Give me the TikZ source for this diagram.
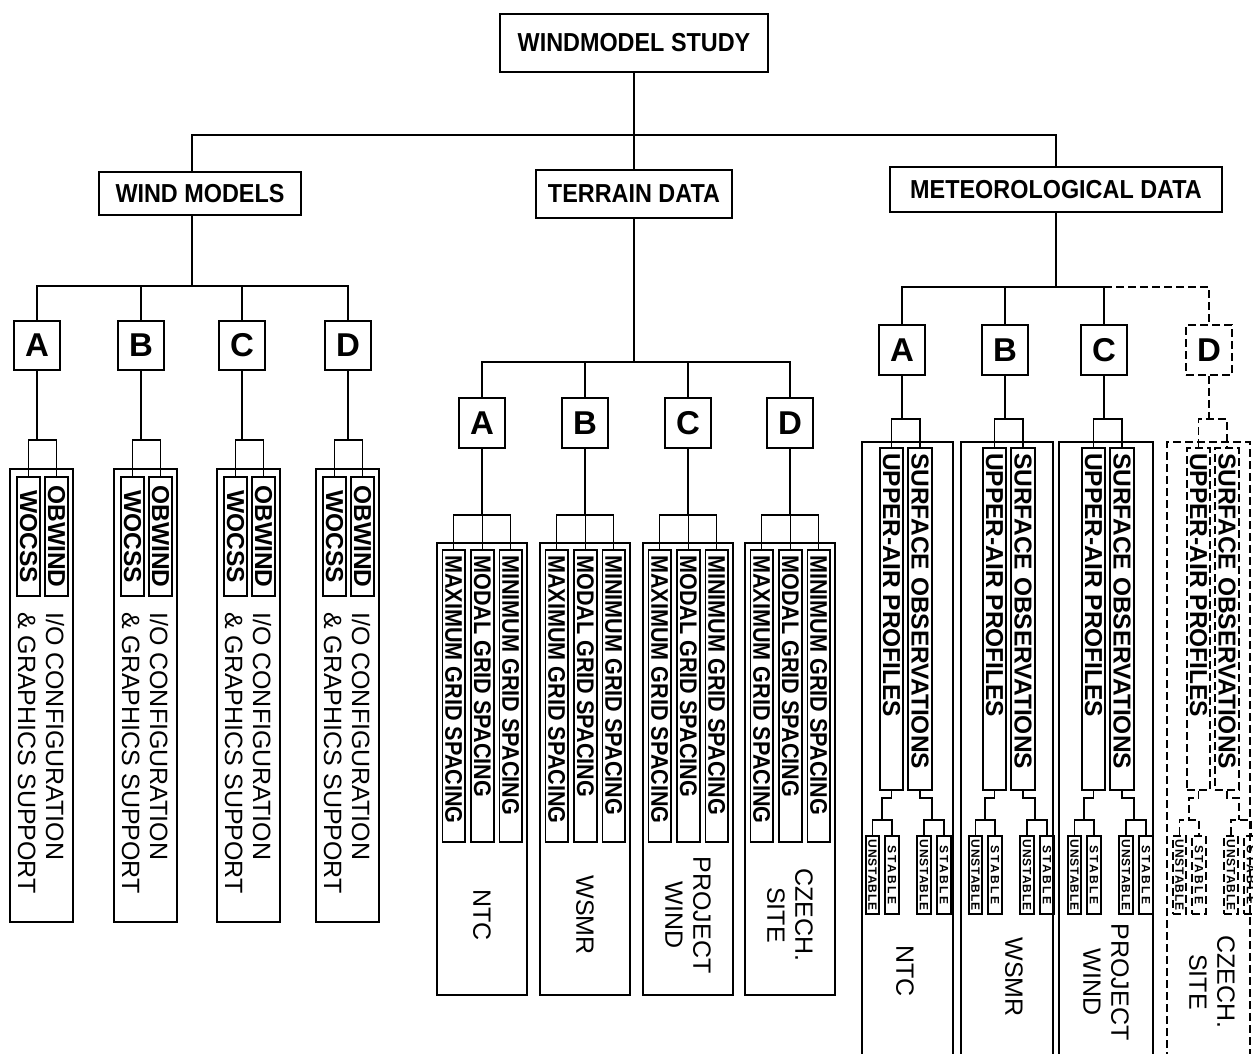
\documentclass[tikz,border=0pt]{standalone}
\usepackage{fontspec}
\setmainfont{Liberation Sans}
\newfontfamily\condfam{Liberation Sans}[FakeStretch=0.9]
\newfontfamily\spfam{Liberation Sans}[LetterSpace=8]
\newfontfamily\spfamw{Liberation Sans}[LetterSpace=20]
\usetikzlibrary{fit}
\begin{document}
\begin{tikzpicture}[x=1pt,y=-1pt,
  bx/.style={draw, line width=1.6pt, inner sep=0pt, rectangle},
  ln/.style={line width=1.4pt},
  fd/.style={dash pattern=on 8pt off 4pt},
  hdr/.style={font=\condfam\bfseries\fontsize{26}{30}\selectfont, inner sep=0pt},
  lett/.style={font=\bfseries\fontsize{33}{36}\selectfont, inner sep=0pt},
  vt/.style={rotate=-90, inner sep=0pt},
  big/.style={vt, font=\fontsize{25}{28}\selectfont},
  cb/.style={vt, font=\condfam\bfseries\fontsize{24}{26}\selectfont},
  mb/.style={vt, font=\bfseries\fontsize{24.5}{28}\selectfont},
  smu/.style={vt, font=\spfam\bfseries\fontsize{12}{14}\selectfont},
  sms/.style={vt, font=\spfamw\bfseries\fontsize{12}{14}\selectfont}]
\fill[white] (0,0) rectangle (1253,1054);
\useasboundingbox (0,0) rectangle (1253,1054);
\clip (0,0) rectangle (1253,1054);

% ---------- top levels ----------
\node[bx, fit={(500,14)(768,72)}] (root) {};
\node[hdr] (rootT) at (root.center) {WINDMODEL STUDY};
\node[bx, fit={(99,172)(301,215)}] (wm) {};
\node[hdr] (wmT) at (wm.center) {WIND MODELS};
\node[bx, fit={(536,170)(732,218)}] (td) {};
\node[hdr] (tdT) at (td.center) {TERRAIN DATA};
\node[bx, fit={(890,167)(1222,212)}] (met) {};
\node[hdr] (metT) at (met.center) {METEOROLOGICAL DATA};

\draw[ln] (root.south) -- (td.north);
\draw[ln] (wm.north -| 192,0) |- (met.north |- 0,135) -- (met.north);

% ---------- wind models ----------
\draw[ln] (wm.south -| 192,0) -- (192,286);
\foreach \n/\lx/\c in {A/37/41,B/141/145,C/242/248,D/348/347}{
  \node[bx, fit={(\lx-23,321)(\lx+23,370)}] (wl\n) {};
  \node[lett] (wlt\n) at (wl\n.center) {\n};
  \node[bx, fit={(\c-31,469)(\c+32,922)}] (wo\n) {};
  \node[bx, fit={(\c-24,477)(\c-1,596)}] (ww\n) {};
  \node[bx, fit={(\c+4,477)(\c+27,596)}] (wb\n) {};
  \node[mb] (wwt\n) at (ww\n.center) {WOCSS};
  \node[mb] (wbt\n) at (wb\n.center) {OBWIND};
  \node[big, anchor=west, align=left] (wot\n) at (\c,612) {I/O CONFIGURATION\\\& GRAPHICS SUPPORT};
  \draw[ln] (wl\n.south) -- (wl\n.south |- 0,440);
  \draw[ln] (ww\n.north) |- (wb\n.north |- 0,440) -- (wb\n.north);
}
\draw[ln] (wlA.north) |- (wlD.north |- 0,286) -- (wlD.north);
\draw[ln] (wlB.north) -- (wlB.north |- 0,286);
\draw[ln] (wlC.north) -- (wlC.north |- 0,286);

% ---------- terrain data ----------
\draw[ln] (td.south) -- (td.south |- 0,362);
\foreach \n/\o/\lab in {A/437/NTC,B/540/WSMR,C/643/{PROJECT\\WIND},D/745/{CZECH.\\SITE}}{
  \node[bx, fit={(\o+22,398)(\o+68,448)}] (tl\n) {};
  \node[lett] (tlt\n) at (tl\n.center) {\n};
  \node[bx, fit={(\o,543)(\o+90,995)}] (to\n) {};
  \node[bx, fit={(\o+5.5,550)(\o+28,842)}] (tx\n) {};
  \node[bx, fit={(\o+34,550)(\o+57,842)}] (tm\n) {};
  \node[bx, fit={(\o+62.5,550)(\o+85,842)}] (tn\n) {};
  \node[cb, anchor=west] (txt\n) at (\o+16.75,555) {MAXIMUM GRID SPACING};
  \node[cb, anchor=west] (tmt\n) at (\o+45.5,555) {MODAL GRID SPACING};
  \node[cb, anchor=west] (tnt\n) at (\o+73.75,555) {MINIMUM GRID SPACING};
  \node[big, align=center] (tot\n) at (\o+45,915) {\lab};
  \draw[ln] (tl\n.south) -- (tl\n.south |- 0,515);
  \draw[ln] (tx\n.north) |- (tn\n.north |- 0,515) -- (tn\n.north);
  \draw[ln] (tm\n.north) -- (tm\n.north |- 0,515);
}
\draw[ln] (tlA.north) |- (tlD.north |- 0,362) -- (tlD.north);
\draw[ln] (tlB.north) -- (tlB.north |- 0,362);
\draw[ln] (tlC.north) -- (tlC.north |- 0,362);

% ---------- meteorological data ----------
\draw[ln] (met.south) -- (met.south |- 0,287);
\foreach \n/\x/\l/\r/\st/\tx/\ty/\lab in {
   A/880/862/953/solid/905/971/NTC,
   B/983/961/1053/solid/1014/977/WSMR,
   C/1082/1059/1153/solid/1106/982/{PROJECT\\WIND},
   D/1187/1167/1250/fd/1212/982/{CZECH.\\SITE}}{
  \node[bx,\st, fit={(\x-1,325)(\x+45,375)}] (ml\n) {};
  \node[lett] (mlt\n) at (ml\n.center) {\n};
  \draw[ln,\st] (\l,1060) -- (\l,442) -- (\r,442) -- (\r,1060);
  \node[bx,\st, fit={(\x,448)(\x+23,790)}] (mu\n) {};
  \node[bx,\st, fit={(\x+28,448)(\x+52,790)}] (ms\n) {};
  \node[mb, anchor=west] (mut\n) at (\x+11.5,453) {UPPER-AIR PROFILES};
  \node[mb, anchor=west] (mst\n) at (\x+40,453) {SURFACE OBSERVATIONS};
  \draw[ln,\st] (ml\n.south) -- (ml\n.south |- 0,419);
  \draw[ln,\st] (mu\n.north) |- (ms\n.north |- 0,419) -- (ms\n.north);
  \node[bx,\st, fit={(\x-14,836)(\x-1,914)}] (mua\n) {};
  \node[bx,\st, fit={(\x+5,836)(\x+19,914)}] (mub\n) {};
  \node[bx,\st, fit={(\x+37,836)(\x+51,914)}] (msa\n) {};
  \node[bx,\st, fit={(\x+57,836)(\x+71,914)}] (msb\n) {};
  \node[smu] (muat\n) at (mua\n.center) {UNSTABLE};
  \node[sms] (mubt\n) at (mub\n.center) {STABLE};
  \node[smu] (msat\n) at (msa\n.center) {UNSTABLE};
  \node[sms] (msbt\n) at (msb\n.center) {STABLE};
  \coordinate (mja\n) at (\x+2,820);
  \coordinate (mjb\n) at (\x+52,820);
  \draw[ln,\st] (mu\n.south) -- ++(0,7) -| (mja\n);
  \draw[ln,\st] (mua\n.north) |- (mja\n) -| (mub\n.north);
  \draw[ln,\st] (ms\n.south) -- ++(0,7) -| (mjb\n);
  \draw[ln,\st] (msa\n.north) |- (mjb\n) -| (msb\n.north);
  \node[big, align=center] (mot\n) at (\tx,\ty) {\lab};
}
\draw[ln] (mlA.north) |- (mlC.north |- 0,287) -- (mlC.north);
\draw[ln] (mlB.north) -- (mlB.north |- 0,287);
\draw[ln,fd] (mlC.north |- 0,287) -| (mlD.north);
\end{tikzpicture}
\end{document}
